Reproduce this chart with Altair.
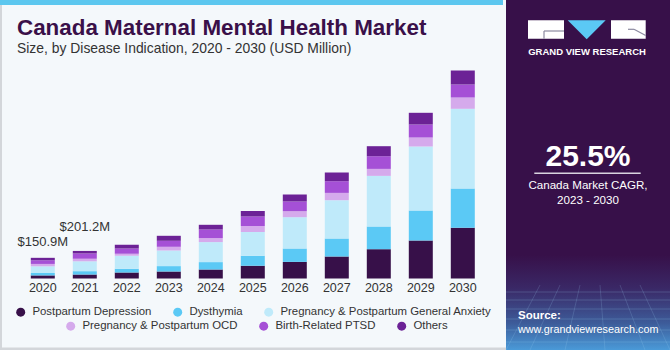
import altair as alt
import pandas as pd

# ---------------- data ----------------
years = ["2020", "2021", "2022", "2023", "2024", "2025", "2026", "2027", "2028", "2029", "2030"]
categories = [
    "Postpartum Depression",
    "Dysthymia",
    "Pregnancy & Postpartum General Anxiety",
    "Pregnancy & Postpartum OCD",
    "Birth-Related PTSD",
    "Others",
]
colors = ["#371049", "#5bc9f5", "#bfeafa", "#d5aaec", "#a550d6", "#6c2296"]

postpartum_depression = [22.5, 29.0, 43.8, 51.1, 65.7, 92.7, 121.2, 160.6, 213.9, 277.4, 370.1]
dysthymia = [17.8, 24.5, 27.0, 39.4, 54.0, 73.0, 97.8, 131.4, 165.7, 219.0, 286.9]
general_anxiety = [48.5, 72.0, 94.9, 113.9, 146.0, 173.0, 228.5, 279.6, 369.4, 467.2, 581.8]
ocd = [17.5, 18.7, 14.6, 27.0, 29.2, 43.8, 43.8, 53.3, 51.1, 65.7, 82.5]
ptsd = [26.8, 38.5, 38.7, 43.8, 62.8, 70.1, 70.8, 85.4, 92.7, 94.9, 94.9]
others = [17.8, 18.5, 27.0, 36.5, 34.3, 39.4, 51.1, 63.5, 73.0, 85.4, 102.2]

label_years = ["2020", "2021"]
label_texts = ["$150.9M", "$201.2M"]

series = [postpartum_depression, dysthymia, general_anxiety, ocd, ptsd, others]

rows = []
for ci, (cat, vals) in enumerate(zip(categories, series)):
    for y, v in zip(years, vals):
        rows.append({"Year": y, "Category": cat, "Value": v, "idx": ci})
df = pd.DataFrame(rows)

totals = {y: sum(s[i] for s in series) for i, y in enumerate(years)}
labels_df = pd.DataFrame({
    "Year": label_years,
    "Total": [totals[y] for y in label_years],
    "Label": label_texts,
})

FONT = "Liberation Sans"
W, H = 670, 350
BASE = 278.5
PX_PER_UNIT = 1 / 7.3

x_scale = alt.Scale(domain=years, range=[21.8, 483.8], paddingInner=0.4286, paddingOuter=0.2143)
y_scale = alt.Scale(domain=[0, BASE / PX_PER_UNIT], range=[BASE, 0], nice=False, zero=True)

dummy = pd.DataFrame({"a": [0]})


def rect(x, x2, y, y2, color):
    return alt.Chart(dummy).mark_rect(color=color).encode(
        x=alt.value(x), x2=alt.value(x2), y=alt.value(y), y2=alt.value(y2)
    )


def rule(x, x2, y, y2, color, width, opacity=1):
    return alt.Chart(dummy).mark_rule(color=color, strokeWidth=width, opacity=opacity).encode(
        x=alt.value(x), x2=alt.value(x2), y=alt.value(y), y2=alt.value(y2)
    )


def text(t, x, y, size, color, weight="normal", align="left", font=FONT):
    return alt.Chart(dummy).mark_text(
        fontSize=size, font=font, color=color, fontWeight=weight,
        align=align, baseline="alphabetic"
    ).encode(x=alt.value(x), y=alt.value(y), text=alt.value(t))


# ---------------- decorations ----------------
top_strip = rect(0, 503, 0, 5, "#5cc7ef")
left_border = rect(0, 2, 5, 350, "#d3d6da")
bottom_border = rect(0, 506, 347.5, 350, "#d3d6da")

panel = rect(506, 670, 0, 350, "#371049")
panel_grad = alt.Chart(dummy).mark_rect(
    color=alt.Gradient(
        gradient="linear",
        stops=[
            alt.GradientStop(color="#371049", offset=0),
            alt.GradientStop(color="#3a2866", offset=0.35),
            alt.GradientStop(color="#3d5c9a", offset=0.72),
            alt.GradientStop(color="#4a9ad8", offset=1),
        ],
        x1=0, x2=0, y1=0, y2=1,
    )
).encode(x=alt.value(506), x2=alt.value(670), y=alt.value(255), y2=alt.value(350))

# faint perspective grid in the panel's lower part
grid_layers = []
for gy in [292, 300, 309, 319, 330, 342]:
    grid_layers.append(rule(506, 670, gy, gy, "#9fd3f5", 0.6, 0.35))
for gx0, gx1 in [(540, 506), (560, 530), (580, 565), (600, 605), (620, 645), (640, 670)]:
    grid_layers.append(rule(gx0, gx1, 285, 350, "#9fd3f5", 0.6, 0.3))

# logo
logo_g = rect(528, 564, 20.3, 38.7, "#ffffff")
logo_g1 = rule(544, 564, 31, 31, "#8c8aa0", 1.2)
logo_g2 = rule(544, 544, 31, 38.7, "#8c8aa0", 1.2)
logo_tri = alt.Chart(dummy).mark_point(
    shape="M-1,-0.5L1,-0.5L0,0.5Z", filled=True, size=1444, opacity=1, color="#5bc9f5", strokeWidth=0
).encode(x=alt.value(586.7), y=alt.value(29.8))
logo_r = rect(611, 645.7, 20.3, 38.7, "#ffffff")
logo_r1 = rule(628, 634, 29.3, 29.3, "#8c8aa0", 1.2)
logo_r2 = rule(634, 645.7, 29.3, 35.5, "#8c8aa0", 1.2)
logo_txt = text("GRAND VIEW RESEARCH", 587, 54.7, 9.5, "#ffffff", "bold", "center")

cagr = text("25.5%", 588, 165.7, 30, "#ffffff", "bold", "center")
cagr_line = rule(534.3, 640.7, 173.3, 173.3, "#d9d4e0", 1.5)
cagr_t1 = text("Canada Market CAGR,", 588, 189, 11.6, "#ffffff", "normal", "center")
cagr_t2 = text("2023 - 2030", 588, 204, 11.6, "#ffffff", "normal", "center")
src1 = text("Source:", 518, 319.3, 11.5, "#ffffff", "bold")
src2 = text("www.grandviewresearch.com", 518, 333.3, 10.8, "#ffffff")

title = text("Canada Maternal Mental Health Market", 17, 35, 22.4, "#3a1049", "bold")
subtitle = text("Size, by Disease Indication, 2020 - 2030 (USD Million)", 17, 53, 13.9, "#333333")

# ---------------- data marks ----------------
bars = alt.Chart(df).mark_bar().encode(
    x=alt.X("Year:N", scale=x_scale, axis=None),
    y=alt.Y("Value:Q", scale=y_scale, axis=None, stack="zero"),
    color=alt.Color("Category:N", scale=alt.Scale(domain=categories, range=colors), legend=None),
    order=alt.Order("idx:Q", sort="ascending"),
)

year_labels = alt.Chart(pd.DataFrame({"Year": years})).mark_text(
    fontSize=12.5, font=FONT, color="#333333", baseline="alphabetic"
).encode(
    x=alt.X("Year:N", scale=x_scale, axis=None),
    y=alt.value(291.5),
    text="Year:N",
)

val_base = alt.Chart(labels_df)
val1 = val_base.transform_filter(alt.datum.Year == label_years[0]).mark_text(
    fontSize=13, font=FONT, color="#333333", baseline="alphabetic", dy=-12
).encode(x=alt.X("Year:N", scale=x_scale, axis=None), y=alt.Y("Total:Q", scale=y_scale, axis=None), text="Label:N")
val2 = val_base.transform_filter(alt.datum.Year == label_years[1]).mark_text(
    fontSize=13, font=FONT, color="#333333", baseline="alphabetic", dy=-20
).encode(x=alt.X("Year:N", scale=x_scale, axis=None), y=alt.Y("Total:Q", scale=y_scale, axis=None), text="Label:N")


def legend_layer(cats, cols, lx, ly):
    return alt.Chart(pd.DataFrame({"Category": cats})).mark_circle(size=81, opacity=1).encode(
        x=alt.value(-200),
        y=alt.value(-200),
        color=alt.Color(
            "Category:N",
            scale=alt.Scale(domain=cats, range=cols),
            legend=alt.Legend(
                orient="none", legendX=lx, legendY=ly, direction="horizontal", title=None,
                symbolType="circle", symbolSize=81, symbolStrokeWidth=0, symbolOpacity=1,
                labelFontSize=11.4, labelFont=FONT, labelColor="#333333",
                columnPadding=20, labelOffset=6, padding=0, labelLimit=400,
            ),
        ),
    )


leg1 = legend_layer(categories[:3], colors[:3], 15, 306)
leg2 = legend_layer(categories[3:], colors[3:], 65, 320)

chart = alt.layer(
    top_strip, left_border, bottom_border,
    panel, panel_grad, *grid_layers,
    logo_g, logo_g1, logo_g2, logo_tri, logo_r, logo_r1, logo_r2, logo_txt,
    cagr, cagr_line, cagr_t1, cagr_t2, src1, src2,
    title, subtitle,
    bars, year_labels, val1, val2,
    leg1, leg2,
).resolve_scale(color="independent").properties(
    width=W, height=H, autosize=alt.AutoSizeParams(type="none"), padding=0,
    background="#f4f8fb",
).configure_view(stroke=None)

chart.save("out.html", embed_options={"renderer": "svg", "actions": False})
